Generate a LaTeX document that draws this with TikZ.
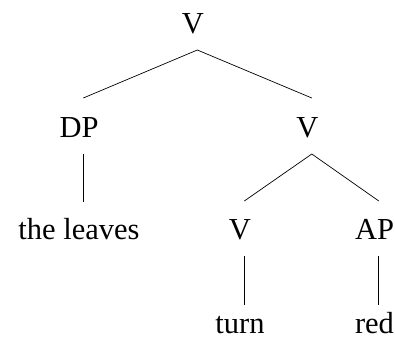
\documentclass[tikz,border=0pt]{standalone}
\usepackage{fontspec}
\setmainfont{Liberation Serif}
\begin{document}
\begin{tikzpicture}[
    x=1pt, y=-1pt,
    cat/.style={anchor=base, inner sep=0pt, font=\fontsize{30.5}{36}\selectfont},
    branch/.style={line width=0.7pt}
]
\useasboundingbox (0,0) rectangle (395,346);
% root
\node[cat] (v0) at (193,33) {V};
% level 1
\node[cat] (dp) at (79,137) {DP};
\node[cat] (v1) at (307.5,137) {V};
% level 2
\node[cat] (obj) at (79,239) {the leaves};
\node[cat] (v2) at (240,239) {V};
\node[cat] (ap) at (374.5,239) {AP};
% words
\node[cat] (turn) at (240,333) {turn};
\node[cat] (red) at (374.5,333) {red};
% branches: parent/child/gap above the child's baseline
\foreach \p/\c/\g in {v0/dp/39, v0/v1/39, dp/obj/37, v1/v2/38, v1/ap/38, v2/turn/28, ap/red/28} {
    \draw[branch] ([xshift=4.3pt, yshift=-17pt]\p.base) -- ([xshift=4.3pt, yshift=\g pt]\c.base);
}
\end{tikzpicture}
\end{document}
